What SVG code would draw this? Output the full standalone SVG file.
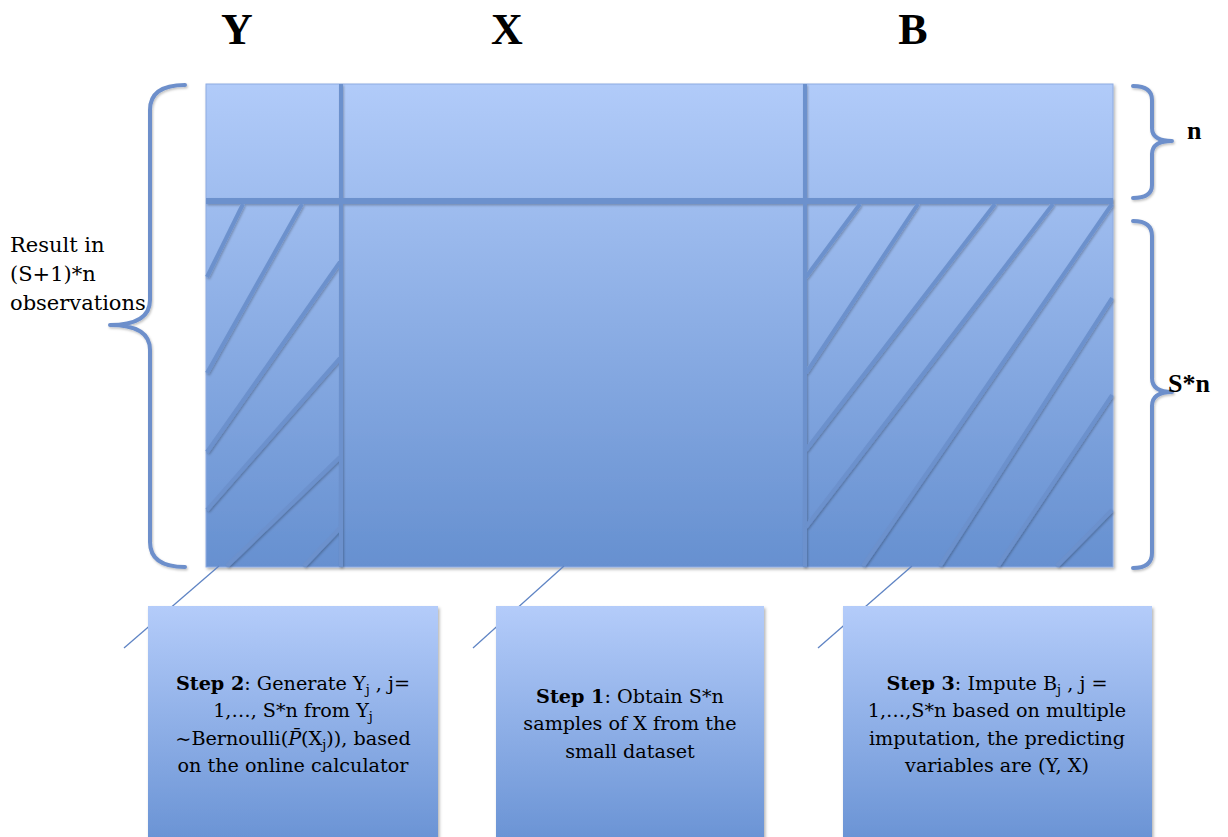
<svg xmlns="http://www.w3.org/2000/svg" width="1228" height="837" viewBox="0 0 1228 837">
<defs>
<linearGradient id="gMain" x1="0" y1="84" x2="0" y2="567" gradientUnits="userSpaceOnUse">
<stop offset="0" stop-color="#b1cbf9"/>
<stop offset="1" stop-color="#6690d0"/>
</linearGradient>
<linearGradient id="gBox" x1="0" y1="606" x2="0" y2="837" gradientUnits="userSpaceOnUse">
<stop offset="0" stop-color="#b4ccfa"/>
<stop offset="1" stop-color="#6b94d5"/>
</linearGradient>
<filter id="sh" x="-5%" y="-5%" width="110%" height="110%">
<feDropShadow dx="1.5" dy="2" stdDeviation="1.5" flood-color="#000" flood-opacity="0.3"/>
</filter>
<filter id="lsh" x="-10%" y="-10%" width="120%" height="120%">
<feDropShadow dx="1" dy="1.5" stdDeviation="1" flood-color="#000" flood-opacity="0.25"/>
</filter>
</defs>
<style>
.hdr{font-family:"Liberation Serif","Times New Roman",serif;font-weight:bold;fill:#000}
.lbl{font-family:"DejaVu Serif","Liberation Serif",serif;fill:#000}
.box{fill:url(#gBox)}
.brace{fill:none;stroke:#6d8fcb;stroke-width:4;stroke-linecap:round;stroke-linejoin:round}
.hatch{stroke:#6c91cd;stroke-width:4;stroke-linecap:butt}
.div{stroke:#6c91cd;fill:none}
.conn{stroke:#5f84c4;stroke-width:1.3;fill:none}
.bt{font-family:"DejaVu Serif","Liberation Serif",serif;font-size:19.2px;fill:#000;text-anchor:middle}
.sub{font-size:13px}
</style>

<g id="headers">
<text class="hdr" x="237" y="44" font-size="44" text-anchor="middle">Y</text>
<text class="hdr" x="507" y="44" font-size="44" text-anchor="middle">X</text>
<text class="hdr" x="913" y="44" font-size="44" text-anchor="middle">B</text>
</g>

<g id="matrix">
<rect x="206" y="84" width="907" height="483" fill="url(#gMain)" stroke="#8eabe2" stroke-width="1" filter="url(#sh)"/>
<g filter="url(#lsh)">
<line class="div" x1="206" y1="201" x2="1113" y2="201" stroke-width="6"/>
<line class="div" x1="341" y1="84" x2="341" y2="567" stroke-width="4"/>
<line class="div" x1="805" y1="84" x2="805" y2="567" stroke-width="4"/>
<line class="hatch" x1="243" y1="204" x2="207" y2="277"/>
<line class="hatch" x1="302" y1="204" x2="207" y2="373"/>
<line class="hatch" x1="340" y1="262" x2="207" y2="452"/>
<line class="hatch" x1="340" y1="358" x2="207" y2="510"/>
<line class="hatch" x1="340" y1="457" x2="227" y2="566"/>
<line class="hatch" x1="340" y1="528" x2="304" y2="566"/>
<line class="hatch" x1="860" y1="204" x2="806" y2="277"/>
<line class="hatch" x1="918" y1="204" x2="806" y2="373"/>
<line class="hatch" x1="995" y1="204" x2="806" y2="450"/>
<line class="hatch" x1="1053" y1="204" x2="806" y2="527"/>
<line class="hatch" x1="1112" y1="204" x2="863" y2="566"/>
<line class="hatch" x1="1112" y1="298" x2="940" y2="566"/>
<line class="hatch" x1="1112" y1="395" x2="998" y2="566"/>
<line class="hatch" x1="1112" y1="510" x2="1057" y2="566"/>
</g>
</g>

<g id="braces" filter="url(#lsh)">
<path class="brace" d="M185,85 Q150,85 150,110 L150,300 Q150,325 110,325 Q150,325 150,350 L150,542 Q150,567 185,567"/>
<path class="brace" d="M1133,86 Q1152,86 1152,100 L1152,128 Q1152,141 1172,141 Q1152,141 1152,154 L1152,185 Q1152,198 1133,198"/>
<path class="brace" d="M1133,221 Q1152,221 1152,236 L1152,378 Q1152,392 1172,392 Q1152,392 1152,406 L1152,553 Q1152,568 1133,568"/>
</g>

<g id="side-labels">
<text class="hdr" x="1187" y="139" font-size="26">n</text>
<text class="hdr" x="1168" y="392" font-size="26">S*n</text>
<text class="lbl" font-size="21"><tspan x="10" y="252">Result in</tspan><tspan x="10" y="281">(S+1)*n</tspan><tspan x="10" y="310">observations</tspan></text>
</g>

<g id="connectors">
<line class="conn" x1="124" y1="648" x2="219" y2="566"/>
<line class="conn" x1="473" y1="648" x2="564" y2="566"/>
<line class="conn" x1="818" y1="648" x2="912" y2="566"/>
</g>

<g id="step2">
<rect class="box" x="148" y="606" width="290" height="240" filter="url(#sh)"/>
<text class="bt"><tspan x="293" y="690"><tspan font-weight="bold">Step 2</tspan>: Generate Y<tspan class="sub" dy="4">j</tspan><tspan dy="-4"> , j=</tspan></tspan><tspan x="293" y="717">1,…, S*n from  Y<tspan class="sub" dy="4">j</tspan></tspan><tspan x="293" y="745">~Bernoulli(<tspan font-style="italic">P̄</tspan>(X<tspan class="sub" dy="4">j</tspan><tspan dy="-4">)), based</tspan></tspan><tspan x="293" y="772">on the online calculator</tspan></text>
</g>

<g id="step1">
<rect class="box" x="496" y="606" width="268" height="240" filter="url(#sh)"/>
<text class="bt"><tspan x="630" y="703"><tspan font-weight="bold">Step 1</tspan>: Obtain S*n</tspan><tspan x="630" y="730">samples of X from the</tspan><tspan x="630" y="758">small dataset</tspan></text>
</g>

<g id="step3">
<rect class="box" x="843" y="606" width="309" height="240" filter="url(#sh)"/>
<text class="bt"><tspan x="997" y="690"><tspan font-weight="bold">Step 3</tspan>: Impute B<tspan class="sub" dy="4">j</tspan><tspan dy="-4"> , j =</tspan></tspan><tspan x="997" y="717">1,…,S*n based on multiple</tspan><tspan x="997" y="745">imputation, the predicting</tspan><tspan x="997" y="772">variables are (Y, X)</tspan></text>
</g>
</svg>
